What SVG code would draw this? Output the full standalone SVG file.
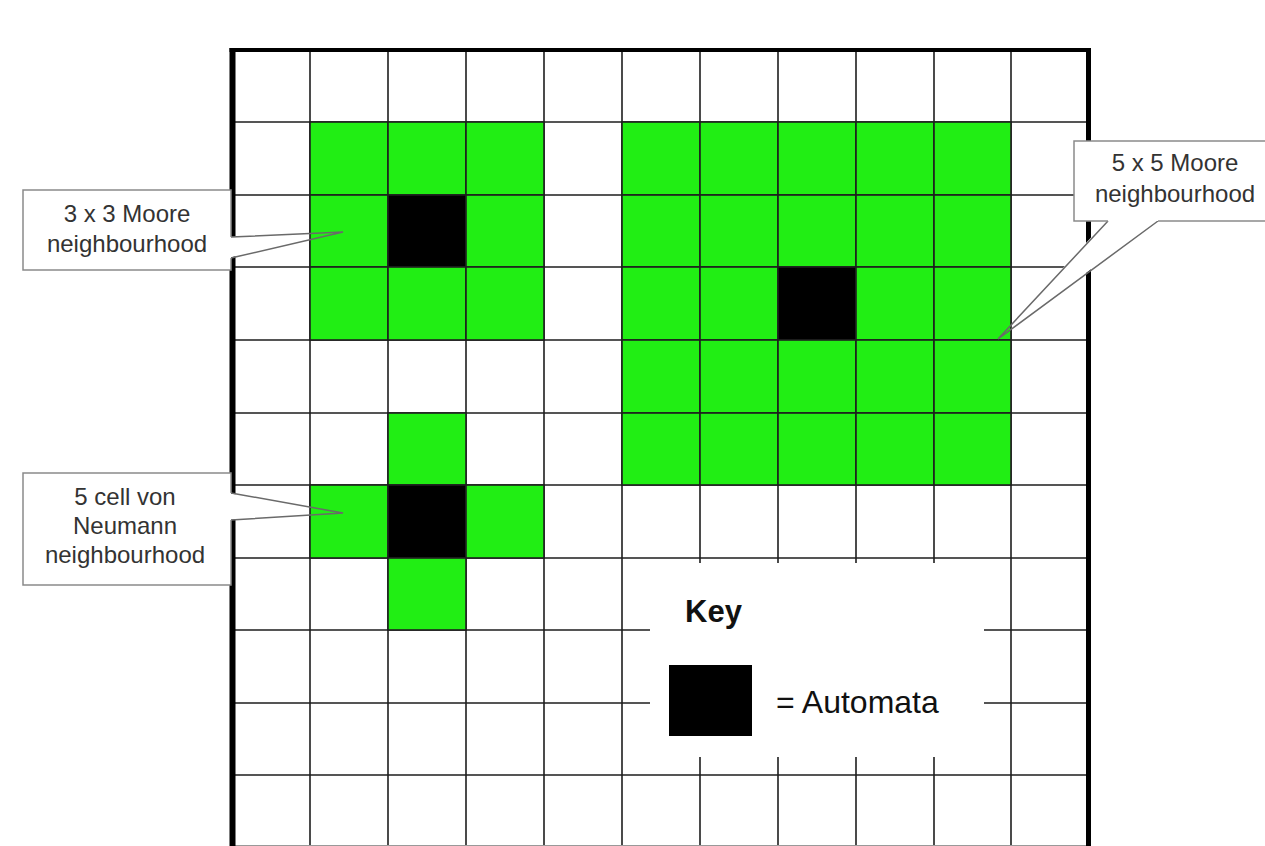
<svg xmlns="http://www.w3.org/2000/svg" width="1265" height="846" viewBox="0 0 1265 846">
<style>
.grid{stroke:#1e1e1e;stroke-width:1.6;fill:none}
.border{stroke:#000;fill:none}
.g{fill:#21ee14;stroke:#1e1e1e;stroke-width:1.6}
.b{fill:#000;stroke:#1e1e1e;stroke-width:1.6}
.box{fill:#fff;stroke:#8a8a8a;stroke-width:1.5}
.pfill{fill:#fff;stroke:none}
.pline{fill:none;stroke:#6a6a6a;stroke-width:1.5;stroke-linejoin:miter}
.t{font-family:'Liberation Sans',Arial,sans-serif;font-size:24px;fill:#333;text-anchor:middle}
.k{font-family:'Liberation Sans',Arial,sans-serif;fill:#111}
</style>
<rect width="1265" height="846" fill="#fff"/>
<g id="grid">
<path class="grid" d="M310,50V846 M388,50V846 M466,50V846 M544,50V846 M622,50V846 M700,50V846 M778,50V846 M856,50V846 M934,50V846 M1011,50V846 M233,122H1088 M233,195H1088 M233,267H1088 M233,340H1088 M233,413H1088 M233,485H1088 M233,558H1088 M233,630H1088 M233,703H1088 M233,775H1088"/>
<path d="M233,845.5H1088" stroke="#999" stroke-width="1.2"/>
<path class="border" stroke-width="4" d="M229.5,50H1091"/>
<path class="border" stroke-width="6" d="M232.5,48V846"/>
<path class="border" stroke-width="5" d="M1088.5,48V846"/>
</g>
<g id="connectors">
<polygon class="pfill" points="228,237 343,232 228,258"/>
<polygon class="pfill" points="228,493 343,513 228,520"/>
<polygon class="pfill" points="1108,219 998,339 1158,219"/>
</g>
<g id="cells">
<rect class="g" x="310" y="122" width="78" height="73"/>
<rect class="g" x="388" y="122" width="78" height="73"/>
<rect class="g" x="466" y="122" width="78" height="73"/>
<rect class="g" x="310" y="195" width="78" height="72"/>
<rect class="b" x="388" y="195" width="78" height="72"/>
<rect class="g" x="466" y="195" width="78" height="72"/>
<rect class="g" x="310" y="267" width="78" height="73"/>
<rect class="g" x="388" y="267" width="78" height="73"/>
<rect class="g" x="466" y="267" width="78" height="73"/>
<rect class="g" x="388" y="413" width="78" height="72"/>
<rect class="g" x="310" y="485" width="78" height="73"/>
<rect class="b" x="388" y="485" width="78" height="73"/>
<rect class="g" x="466" y="485" width="78" height="73"/>
<rect class="g" x="388" y="558" width="78" height="72"/>
<g id="moore5">
<rect class="g" x="622" y="122" width="78" height="73"/><rect class="g" x="700" y="122" width="78" height="73"/><rect class="g" x="778" y="122" width="78" height="73"/><rect class="g" x="856" y="122" width="78" height="73"/><rect class="g" x="934" y="122" width="77" height="73"/>
<rect class="g" x="622" y="195" width="78" height="72"/><rect class="g" x="700" y="195" width="78" height="72"/><rect class="g" x="778" y="195" width="78" height="72"/><rect class="g" x="856" y="195" width="78" height="72"/><rect class="g" x="934" y="195" width="77" height="72"/>
<rect class="g" x="622" y="267" width="78" height="73"/><rect class="g" x="700" y="267" width="78" height="73"/><rect class="b" x="778" y="267" width="78" height="73"/><rect class="g" x="856" y="267" width="78" height="73"/><rect class="g" x="934" y="267" width="77" height="73"/>
<rect class="g" x="622" y="340" width="78" height="73"/><rect class="g" x="700" y="340" width="78" height="73"/><rect class="g" x="778" y="340" width="78" height="73"/><rect class="g" x="856" y="340" width="78" height="73"/><rect class="g" x="934" y="340" width="77" height="73"/>
<rect class="g" x="622" y="413" width="78" height="72"/><rect class="g" x="700" y="413" width="78" height="72"/><rect class="g" x="778" y="413" width="78" height="72"/><rect class="g" x="856" y="413" width="78" height="72"/><rect class="g" x="934" y="413" width="77" height="72"/>
</g>
</g>
<g id="pointers">
<polyline class="pline" points="231,237 343,232 231,258"/>
<polyline class="pline" points="231,493 343,513 231,520"/>
<polyline class="pline" points="1108,221 998,339 1158,221"/>
</g>
<g id="callout-3x3">
<path class="box" d="M231,237V190H23V270H231V258"/>
<text class="t" x="127" y="222">3 x 3 Moore</text>
<text class="t" x="127" y="252">neighbourhood</text>
</g>
<g id="callout-vonneumann">
<path class="box" d="M231,493V473H23V585H231V520"/>
<text class="t" x="125" y="505">5 cell von</text>
<text class="t" x="125" y="534">Neumann</text>
<text class="t" x="125" y="563">neighbourhood</text>
</g>
<g id="callout-5x5">
<path class="box" d="M1108,221H1074V141H1272V221H1158"/>
<text class="t" x="1175" y="171">5 x 5 Moore</text>
<text class="t" x="1175" y="202">neighbourhood</text>
</g>
<g id="key">
<rect x="650" y="563" width="334" height="194" fill="#fff"/>
<text class="k" x="685" y="622" font-size="31" font-weight="bold">Key</text>
<rect x="669" y="665" width="83" height="71" fill="#000"/>
<text class="k" x="776" y="713" font-size="32">= Automata</text>
</g>
</svg>
